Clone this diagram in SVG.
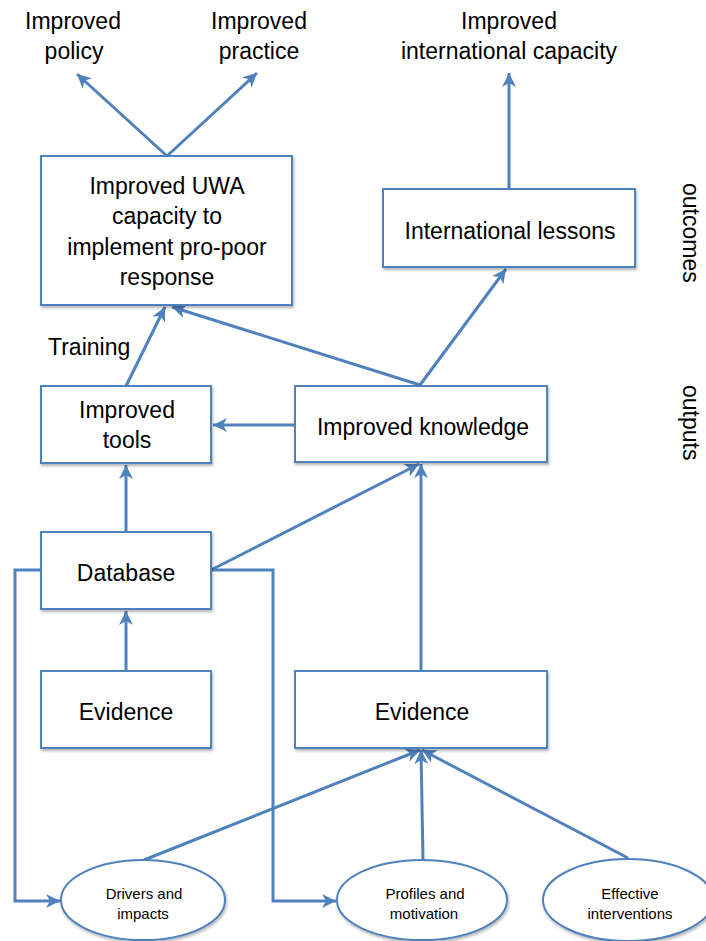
<svg xmlns="http://www.w3.org/2000/svg" width="706" height="941" viewBox="0 0 706 941">
<style>
text{font-family:"Liberation Sans",Arial,sans-serif;fill:#000}
.t{font-size:23px;text-anchor:middle}
.s{font-size:15px;text-anchor:middle}
.box{fill:#fff;stroke:#4F81BD;stroke-width:2;filter:url(#sh)}
.c{fill:none;stroke:#4F81BD;stroke-width:3}
.a{marker-end:url(#ah)}
</style>
<defs>
<filter id="sh" x="-10%" y="-10%" width="120%" height="130%">
<feDropShadow dx="1" dy="2" stdDeviation="1.5" flood-color="#000" flood-opacity="0.3"/>
</filter>
<marker id="ah" markerUnits="userSpaceOnUse" markerWidth="16" markerHeight="14" refX="14" refY="7" orient="auto">
<path d="M0,0 L14,7 L0,14 L4,7 z" fill="#4F81BD"/>
</marker>
</defs>

<g id="connectors">
<path class="c a" d="M167,156 L77,74"/>
<path class="c a" d="M167,156 L257,73"/>
<path class="c a" d="M509,189 L509,73"/>
<path class="c a" d="M420,385 L506,269"/>
<path class="c a" d="M420,385 L172,307"/>
<path class="c a" d="M126,386 L165,307"/>
<path class="c a" d="M295,425 L213,425"/>
<path class="c a" d="M126,532 L126,465"/>
<path class="c a" d="M211,570 L419,464"/>
<path class="c a" d="M421,671 L421,464"/>
<path class="c a" d="M126,671 L126,611"/>
<path class="c a" d="M41,570 L15,570 L15,901 L60,901"/>
<path class="c a" d="M211,570 L273,570 L273,901 L336,901"/>
<path class="c a" d="M144,860 L420,750"/>
<path class="c a" d="M423,860 L421,750"/>
<path class="c a" d="M628,858 L422,750"/>
</g>

<g id="out-policy">
<text class="t" x="73" y="29">Improved</text>
<text class="t" x="74" y="59">policy</text>
</g>
<g id="out-practice">
<text class="t" x="259" y="29">Improved</text>
<text class="t" x="259" y="59">practice</text>
</g>
<g id="out-intl">
<text class="t" x="509" y="29">Improved</text>
<text class="t" x="509" y="59">international capacity</text>
</g>

<g id="uwa">
<rect class="box" x="41" y="156" width="251" height="149"/>
<text class="t" x="167" y="194">Improved UWA</text>
<text class="t" x="167" y="224">capacity to</text>
<text class="t" x="167" y="255">implement pro-poor</text>
<text class="t" x="167" y="285">response</text>
</g>

<g id="lessons">
<rect class="box" x="383" y="189" width="252" height="78"/>
<text class="t" x="510" y="239">International lessons</text>
</g>

<g id="training-label">
<text style="font-size:23px" x="48" y="355">Training</text>
</g>

<g id="tools">
<rect class="box" x="41" y="386" width="170" height="77"/>
<text class="t" x="127" y="418">Improved</text>
<text class="t" x="127" y="448">tools</text>
</g>

<g id="knowledge">
<rect class="box" x="295" y="386" width="252" height="76"/>
<text class="t" x="423" y="435">Improved knowledge</text>
</g>

<g id="database">
<rect class="box" x="41" y="532" width="170" height="77"/>
<text class="t" x="126" y="581">Database</text>
</g>

<g id="evidence-left">
<rect class="box" x="41" y="671" width="170" height="77"/>
<text class="t" x="126" y="720">Evidence</text>
</g>

<g id="evidence-right">
<rect class="box" x="295" y="671" width="252" height="77"/>
<text class="t" x="422" y="720">Evidence</text>
</g>

<g id="drivers">
<ellipse class="box" cx="143" cy="900" rx="82" ry="40"/>
<text class="s" x="144" y="899">Drivers and</text>
<text class="s" x="143" y="919">impacts</text>
</g>

<g id="profiles">
<ellipse class="box" cx="422" cy="900" rx="85" ry="40"/>
<text class="s" x="425" y="899">Profiles and</text>
<text class="s" x="424" y="919">motivation</text>
</g>

<g id="effective">
<ellipse class="box" cx="628" cy="900" rx="85" ry="41"/>
<text class="s" x="630" y="899">Effective</text>
<text class="s" x="630" y="919">interventions</text>
</g>

<g id="label-outcomes">
<text style="font-size:23px" transform="translate(683,183) rotate(90)">outcomes</text>
</g>
<g id="label-outputs">
<text style="font-size:23px" transform="translate(683,385) rotate(90)">outputs</text>
</g>
</svg>
